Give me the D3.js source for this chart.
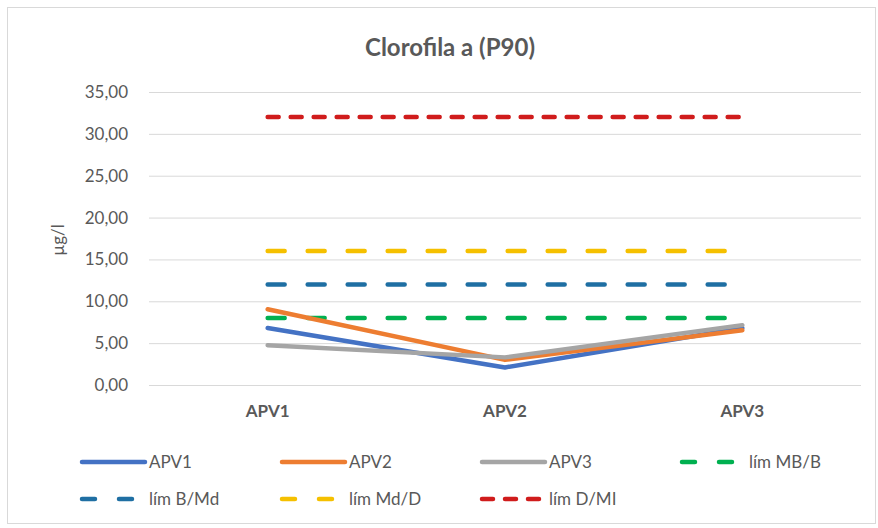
<!DOCTYPE html>
<head>
  <meta charset="utf-8">
  <script src="https://d3js.org/d3.v7.min.js"></script>
  <style>
    body { margin:0; background:#fff; }
    text { font-family: Lato, "Open Sans", sans-serif; fill:#595959; }
  </style>
</head>
<body>
<div id="chart"></div>
<script>
  // data
  const categories = ['APV1', 'APV2', 'APV3'];
  const apv1 = [6.8, 2.1, 6.8];
  const apv2 = [9.05, 3.0, 6.55];
  const apv3 = [4.75, 3.3, 7.15];
  const limMBB = [8, 8, 8];
  const limBMd = [12, 12, 12];
  const limMdD = [16, 16, 16];
  const limDMI = [32, 32, 32];
  const yTicks = [0, 5, 10, 15, 20, 25, 30, 35];

  const series = [
    { name: 'APV1', values: apv1, color: '#4472c4', dash: null, legDash: null },
    { name: 'APV2', values: apv2, color: '#ed7d31', dash: null, legDash: null },
    { name: 'APV3', values: apv3, color: '#a5a5a5', dash: null, legDash: null },
    { name: 'lím MB/B', values: limMBB, color: '#00b050', dash: '17,23', legDash: '13,24' },
    { name: 'lím B/Md', values: limBMd, color: '#1f6fa3', dash: '17,23', legDash: '13,24' },
    { name: 'lím Md/D', values: limMdD, color: '#f5c000', dash: '17,23', legDash: '13,24' },
    { name: 'lím D/MI', values: limDMI, color: '#d01c1c', dash: '11,12', legDash: '11,12' }
  ];

  const W = 878, H = 528;
  const margin = { top: 92, right: 17, bottom: 143, left: 149 };
  const width = W - margin.left - margin.right;
  const height = H - margin.top - margin.bottom;

  const svg = d3.select('#chart').append('svg')
    .attr('width', W).attr('height', H);

  svg.append('rect')
    .attr('x', 7.5).attr('y', 7.5)
    .attr('width', 868).attr('height', 516)
    .attr('fill', '#fff').attr('stroke', '#d9d9d9');

  const g = svg.append('g')
    .attr('transform', `translate(${margin.left},${margin.top})`);

  const x = d3.scaleBand().domain(categories).range([0, width]);
  const y = d3.scaleLinear().domain([0, 35]).range([height, 0]);

  // gridlines
  g.append('g')
    .call(d3.axisLeft(y).tickValues(yTicks).tickSize(-width).tickFormat(''))
    .call(a => a.select('.domain').remove())
    .call(a => a.selectAll('line').attr('stroke', '#d9d9d9'));

  // y tick labels
  g.append('g')
    .call(d3.axisLeft(y).tickValues(yTicks).tickSize(0).tickPadding(21)
      .tickFormat(d => d3.format('.2f')(d).replace('.', ',')))
    .call(a => a.select('.domain').remove())
    .call(a => a.selectAll('text').style('font-size', '17px').attr('fill', '#595959'));

  // x category labels
  g.append('g')
    .attr('transform', `translate(0,${height})`)
    .call(d3.axisBottom(x).tickSize(0).tickPadding(20))
    .call(a => a.select('.domain').remove())
    .call(a => a.selectAll('text').style('font-size', '17px').style('font-weight', 'bold').attr('fill', '#595959'));

  const line = d3.line()
    .x((d, i) => x(categories[i]) + x.bandwidth() / 2)
    .y(d => y(d));

  // limits first, data lines on top
  const order = [3, 4, 5, 6, 0, 1, 2];
  order.forEach(k => {
    const s = series[k];
    g.append('path')
      .attr('d', line(s.values))
      .attr('fill', 'none')
      .attr('stroke', s.color)
      .attr('stroke-width', 4.5)
      .attr('stroke-linecap', 'round')
      .attr('stroke-linejoin', 'round')
      .attr('stroke-dasharray', s.dash);
  });

  // title
  svg.append('text')
    .attr('x', 450).attr('y', 56)
    .attr('text-anchor', 'middle')
    .style('font-size', '24px').style('font-weight', 'bold')
    .text('Clorofila a (P90)');

  // axis title
  svg.append('text')
    .attr('transform', 'translate(64,240) rotate(-90)')
    .attr('text-anchor', 'middle')
    .style('font-size', '17px')
    .text('µg/l');

  // legend
  const legX = [82, 282, 482, 682];
  const legY = [462, 499];
  series.forEach((s, i) => {
    const lx = legX[i % 4], ly = legY[Math.floor(i / 4)];
    const lg = svg.append('g').attr('transform', `translate(${lx},${ly})`);
    lg.append('line')
      .attr('x1', 0).attr('x2', 63)
      .attr('stroke', s.color).attr('stroke-width', 4.5)
      .attr('stroke-linecap', 'round')
      .attr('stroke-dasharray', s.legDash);
    lg.append('text')
      .attr('x', 67).attr('dy', '0.35em')
      .style('font-size', '17px')
      .text(s.name);
  });
</script>
</body>
